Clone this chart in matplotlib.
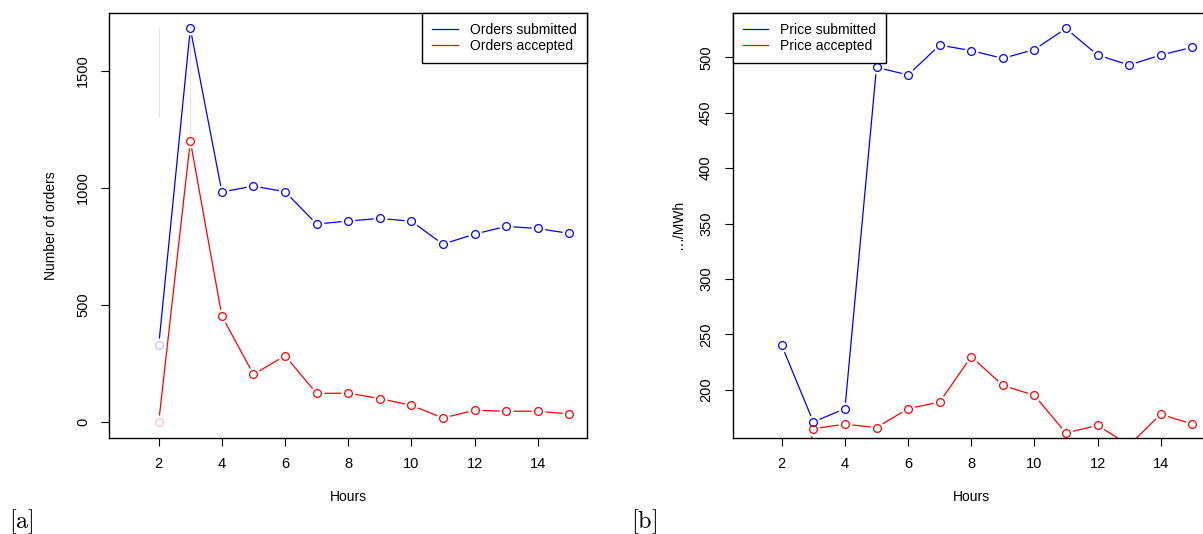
import matplotlib.pyplot as plt

plt.rcParams['font.family'] = ['Liberation Sans', 'DejaVu Sans']
plt.rcParams['mathtext.fontset'] = 'cm'
plt.rcParams['font.size'] = 10

# ===== DATA =====
hours = [2, 3, 4, 5, 6, 7, 8, 9, 10, 11, 12, 13, 14, 15]
hour_range = [1, 15]

orders_submitted = [328, 1680, 982, 1007, 983, 845, 858, 869, 857, 759, 802, 835, 826, 805]
orders_accepted = [0, 1200, 452, 203, 283, 122, 123, 100, 71, 17, 50, 46, 46, 34]

price_submitted = [240, 171, 183, 491, 484, 511, 506, 499, 507, 526, 502, 493, 502, 509]
price_accepted = [0, 165, 169, 166, 183, 189, 230, 204, 195, 161, 168, 150, 178, 169]

# faint grey streaks visible in panel [a]
streak_x = [2, 3]
streak_lo = [1300, 1200]
streak_hi = [1680, 1680]

x_ticks = [2, 4, 6, 8, 10, 12, 14]
orders_ticks = [0, 500, 1000, 1500]
price_ticks = [200, 250, 300, 350, 400, 450, 500]


def r_lim(vals):
    # R style axis range: data range + 4% each side
    lo, hi = min(vals), max(vals)
    pad = 0.04 * (hi - lo)
    return lo - pad, hi + pad


def style_axes(ax, yticks):
    ax.set_xlim(*r_lim(hour_range))
    ax.set_xticks(x_ticks)
    ax.set_yticks(yticks)
    ax.tick_params(direction='out', length=5.8, width=0.8, pad=8.2,
                   labelsize=10.5, color='black')
    ax.tick_params(axis='y', labelrotation=90)
    for lab in ax.get_yticklabels():
        lab.set_va('center')
    for sp in ax.spines.values():
        sp.set_linewidth(1.0)
        sp.set_color('black')
        sp.set_zorder(6)


def draw_series(ax, series, faint_first=False):
    handles = []
    for y, c, lab in series:
        h, = ax.plot(hours, y, color=c, lw=0.9, zorder=2, label=lab)
        handles.append(h)
    # white discs leave the gaps round each point (like R type = "b")
    for y, c, lab in series:
        ax.plot(hours, y, 'o', ms=10, mfc='white', mec='none', zorder=3)
    for y, c, lab in series:
        start = 1 if faint_first else 0
        ax.plot(hours[start:], y[start:], 'o', ms=5.6, mfc='none', mec=c,
                mew=0.9, zorder=4)
        if faint_first:
            ax.plot(hours[:1], y[:1], 'o', ms=5.6, mfc='none', mec=c,
                    mew=0.9, alpha=0.25, zorder=4)
    return handles


def add_legend(ax, handles, loc):
    leg = ax.legend(handles=handles, loc=loc, borderaxespad=0,
                    fancybox=False, framealpha=1, edgecolor='black',
                    handlelength=1.87, handletextpad=0.85, borderpad=0.72,
                    labelspacing=0.17, fontsize=10)
    leg.get_frame().set_linewidth(1.0)
    leg.set_zorder(7)
    return leg


fig = plt.figure(figsize=(12.03, 5.34), dpi=100)

ax_a = fig.add_axes([0.0910, 0.1803, 0.3969, 0.7959])
ax_b = fig.add_axes([0.6089, 0.1803, 0.3969, 0.7959])

# ================== [a] ORDERS ==================
ax_a.vlines(streak_x, streak_lo, streak_hi, color='#e4e4e4', lw=0.8, zorder=1)
h_a = draw_series(ax_a, [(orders_submitted, 'blue', 'Orders submitted'),
                         (orders_accepted, 'red', 'Orders accepted')],
                  faint_first=True)
ax_a.set_ylim(*r_lim(orders_submitted + orders_accepted))
style_axes(ax_a, orders_ticks)
ax_a.set_xlabel('Hours', va='center')
ax_a.xaxis.set_label_coords(0.5, -0.140)
ax_a.set_ylabel('Number of orders', va='center')
ax_a.yaxis.set_label_coords(-0.1225, 0.5)
add_legend(ax_a, h_a, 'upper right')

# ================== [b] PRICE ==================
h_b = draw_series(ax_b, [(price_submitted, 'blue', 'Price submitted'),
                         (price_accepted, 'red', 'Price accepted')])
# limits follow the submitted series only (accepted is clipped, as in R)
ax_b.set_ylim(*r_lim(price_submitted))
style_axes(ax_b, price_ticks)
ax_b.set_xlabel('Hours', va='center')
ax_b.xaxis.set_label_coords(0.5, -0.140)
ax_b.set_ylabel('\u2026/MWh', va='center')
ax_b.yaxis.set_label_coords(-0.114, 0.5)
add_legend(ax_b, h_b, 'upper left')

# ===== PANEL TAGS =====
fig.text(9 / 1203, 0.0225, r'$\mathrm{[a]}$', fontsize=17.5, ha='left', va='center')
fig.text(631 / 1203, 0.0225, r'$\mathrm{[b]}$', fontsize=17.5, ha='left', va='center')

fig.savefig('out.png', dpi=100, facecolor='white')
